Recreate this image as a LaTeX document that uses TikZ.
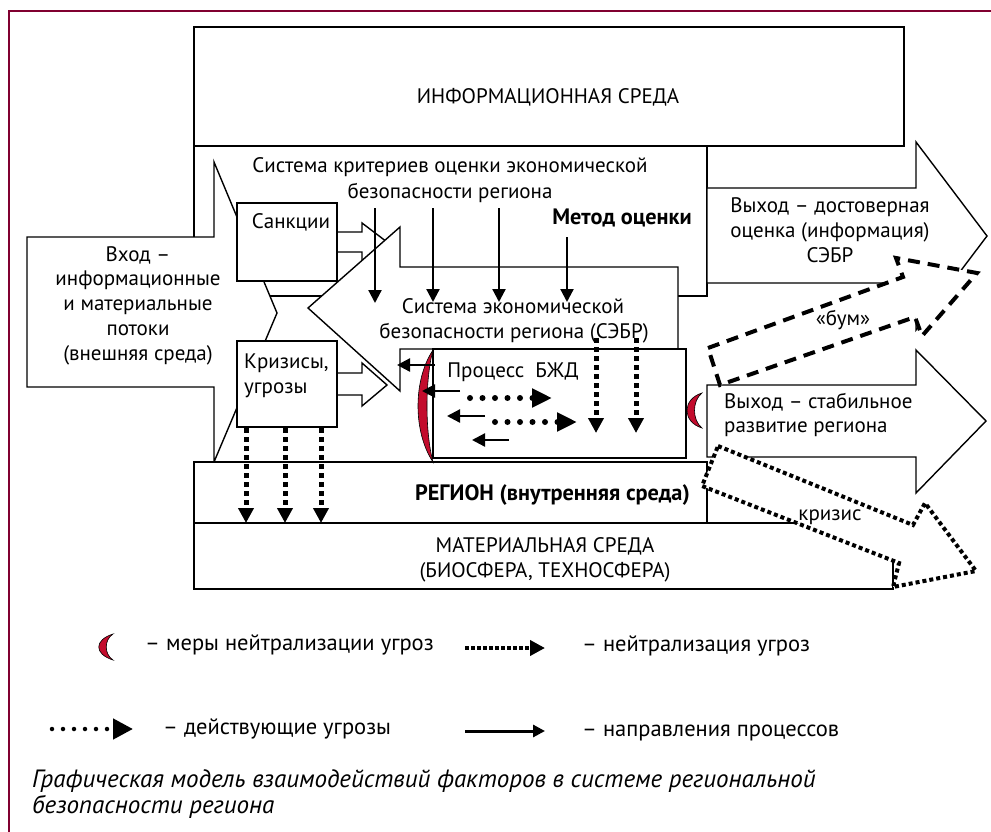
\documentclass[tikz,border=0pt]{standalone}
\usepackage{fontspec}
\setmainfont{PT Sans}
\usetikzlibrary{arrows.meta}
\definecolor{framecol}{RGB}{128,0,48}
\definecolor{crescol}{RGB}{195,12,45}
\newcommand{\fsz}{\fontsize{21}{25}\selectfont}
\newcommand{\fszb}{\fontsize{22.3}{25}\selectfont\bfseries}
\newcommand{\fszleg}{\fontsize{22.5}{26}\selectfont}
\newcommand{\fszcap}{\fontsize{25}{26}\selectfont}
\begin{document}
\begin{tikzpicture}[x=1pt,y=-1pt,
  bx/.style={draw=black, line width=1.4pt, fill=white, line join=miter},
  txt/.style={font=\fsz, inner sep=0pt, text height=14pt, text depth=4pt},
  legtxt/.style={font=\fszleg, inner sep=0pt, text height=15pt, text depth=4pt, anchor=west},
  solidarr/.style={line width=2.3pt, -{Triangle[length=13pt,width=13pt]}},
  rounddot/.style={line width=6pt, line cap=round, dash pattern=on 0pt off 12.5pt, -{Triangle[length=20pt,width=18pt]}},
  sqdot/.style={line width=5pt, dash pattern=on 5pt off 4pt, -{Triangle[length=15pt,width=15pt]}},
  crescent/.style={fill=crescol, draw=black, line width=0.6pt},
  boomline/.style={draw=black, fill=white, line width=4pt, dash pattern=on 12pt off 8pt},
  crisisline/.style={draw=black, fill=white, line width=4pt, dash pattern=on 4pt off 3pt},
]
\useasboundingbox (0,0) rectangle (991,832);
\fill[white] (0,0) rectangle (991,832);
% frame
\draw[framecol, line width=2.6pt] (9,832) -- (9,11) -- (991,11);

% information environment
\draw[bx] (194,27) rectangle (904,146);
% criteria box
\draw[bx] (194,146) rectangle (707,296);
% upper output arrow
\draw[bx] (707,188) -- (916,188) -- (916,142) -- (987,236) -- (916,330) -- (916,283) -- (707,283) -- cycle;
% input arrow
\draw[bx] (27,237) -- (214,237) -- (214,162) -- (277,313) -- (214,462) -- (214,387) -- (27,387) -- cycle;
% sanctions arrow and box
\draw[bx] (337,232) -- (362,232) -- (362,223) -- (387,242) -- (362,261) -- (362,252) -- (337,252) -- cycle;
\draw[bx] (237,203) rectangle (337,281);
% crises arrow and box
\draw[bx] (337,373) -- (362,373) -- (362,363) -- (387,385) -- (362,406) -- (362,395) -- (337,395) -- cycle;
\draw[bx] (237,341) rectangle (337,427);
% big SEBR arrow
\draw[bx] (308,308) -- (400,227) -- (400,267) -- (678,267) -- (678,349) -- (400,349) -- (400,391) -- cycle;
% material and region boxes
\draw[bx] (194,523) rectangle (893,589);
\draw[bx] (194,462) rectangle (707,523);
\draw[line width=2.8pt] (194,523) -- (707,523);
% BZhD process box
\draw[bx] (433,349) rectangle (686,458);
% lower output arrow
\draw[bx] (707,385) -- (916,385) -- (916,350) -- (986,421) -- (916,493) -- (916,457) -- (707,457) -- cycle;
% boom arrow
\draw[boomline] (708,348) -- (903,277) -- (896,258) -- (977,273) -- (922,336) -- (915,317) -- (720,385) -- cycle;
% crisis arrow
\draw[crisisline] (718,446) -- (913,525) -- (925,503) -- (976,571) -- (893,587) -- (899,563) -- (702,486) -- cycle;

% crescents
\draw[crescent] (433,350) .. controls (413,380) and (413,432) .. (433,462) .. controls (425,432) and (425,380) .. (433,350) -- cycle;
\draw[crescent] (702,393) .. controls (682,399) and (682,422) .. (702,428) .. controls (692,420) and (692,401) .. (702,393) -- cycle;

% criteria arrows
\draw[solidarr] (375,208) coordinate (c1s) -- (375,303) coordinate (c1e);
\draw[solidarr] (433,208) coordinate (c2s) -- (433,302) coordinate (c2e);
\draw[solidarr] (499,208) coordinate (c3s) -- (499,302) coordinate (c3e);
\draw[solidarr] (567,237) coordinate (c4s) -- (567,302) coordinate (c4e);
% process arrows
\draw[solidarr] (435,365) -- (397,365);
\draw[solidarr] (460,391) -- (422,391);
\draw[solidarr] (485,416) -- (447,416);
\draw[solidarr] (509,440) -- (472,440);
\draw[rounddot] (470,398) -- (552,398);
\draw[rounddot] (495,422) -- (577,422);
\draw[sqdot] (596,338) -- (596,433);
\draw[sqdot] (636,338) -- (636,433);
\draw[sqdot] (246,428) -- (246,523);
\draw[sqdot] (285,428) -- (285,523);
\draw[sqdot] (321,428) -- (321,523);

% texts
\node[txt] (info) at (548,98.5) {ИНФОРМАЦИОННАЯ СРЕДА};
\node[txt] (crit1) at (450,168) {Система критериев оценки экономической};
\node[txt] (crit2) at (450,193) {безопасности региона};
\node[txt, font=\fszb] (meth) at (622,219) {Метод оценки};
\node[txt] (in1) at (138,256) {Вход –};
\node[txt] (in2) at (138,280) {информационные};
\node[txt] (in3) at (138,305) {и материальные};
\node[txt] (in4) at (138,330) {потоки};
\node[txt] (in5) at (138,355) {(внешняя среда)};
\node[txt] (sanc) at (291,223) {Санкции};
\node[txt, anchor=west] (kr1) at (244,363) {Кризисы,};
\node[txt, anchor=west] (kr2) at (244,388) {угрозы};
\node[txt] (sb1) at (513,308) {Система экономической};
\node[txt] (sb2) at (514,333) {безопасности региона (СЭБР)};
\node[txt] (bzd) at (513,372) {Процесс\ \ БЖД};
\node[txt] (o1a) at (830,207) {Выход – достоверная};
\node[txt] (o1b) at (830,232) {оценка (информация)};
\node[txt] (o1c) at (830,257) {СЭБР};
\node[txt] (boom) at (843,320) {«бум»};
\node[txt, anchor=west] (o2a) at (724,403) {Выход – стабильное};
\node[txt, anchor=west] (o2b) at (724,427) {развитие региона};
\node[txt, anchor=east, font=\fszb] (reg) at (690,495) {РЕГИОН (внутренняя среда)};
\node[txt] (mat1) at (545,547) {МАТЕРИАЛЬНАЯ СРЕДА};
\node[txt] (mat2) at (545,572) {(БИОСФЕРА, ТЕХНОСФЕРА)};
\node[txt] (kriz) at (830,515) {кризис};

% legend
\draw[crescent] (113,634) .. controls (94,640) and (94,654) .. (113,660) .. controls (104,654) and (104,640) .. (113,634) -- cycle;
\node[legtxt] (lg1) at (145,645) {– меры нейтрализации угроз};
\draw[line width=4pt, dash pattern=on 4pt off 2pt, -{Triangle[length=15pt,width=15pt]}] (465,648) coordinate (lg2s) -- (545,648) coordinate (lg2e);
\node[legtxt] (lg2) at (582,646) {– нейтрализация угроз};
\draw[line width=4.5pt, line cap=round, dash pattern=on 0pt off 11pt, -{Triangle[length=20pt,width=20pt]}] (52,729) coordinate (lg3s) -- (133,729) coordinate (lg3e);
\node[legtxt] (lg3) at (163,729) {– действующие угрозы};
\draw[line width=3pt, -{Triangle[length=12pt,width=12pt]}] (465,731) coordinate (lg4s) -- (545,731) coordinate (lg4e);
\node[legtxt] (lg4) at (582,731) {– направления процессов};
\node[legtxt, font=\fszcap\itshape] (cap1) at (32,782) {Графическая модель взаимодействий факторов в системе региональной};
\node[legtxt, font=\fszcap\itshape] (cap2) at (32,808) {безопасности региона};
\end{tikzpicture}
\end{document}
